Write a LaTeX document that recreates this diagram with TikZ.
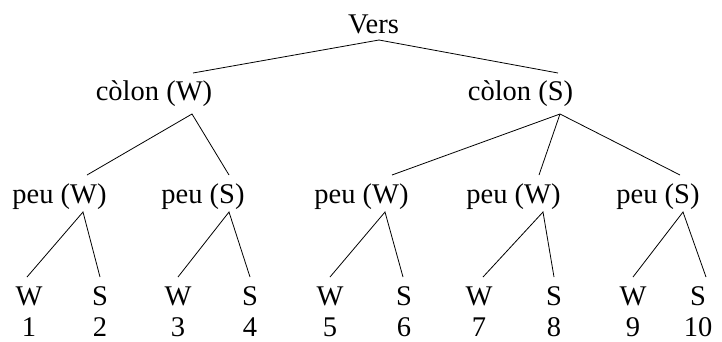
\documentclass[tikz,border=0pt]{standalone}
\usepackage{fontspec}
\setmainfont{Liberation Serif}
\begin{document}
\begin{tikzpicture}[x=1pt,y=-1pt,
  lab/.style={inner sep=0pt, anchor=base, font=\fontsize{28.5}{32}\selectfont},
  edge/.style={line width=0.8pt, line join=miter}]
\useasboundingbox (0,0) rectangle (722,341);

% root
\node[lab] (vers) at (373.5,33) {Vers};
\coordinate (vers-b) at (379,40);

% cola
\node[lab] (cW) at (154,100) {còlon (W)};
\node[lab] (cS) at (520.5,100) {còlon (S)};
\coordinate (cW-t) at (193,73);
\coordinate (cW-b) at (192,114);
\coordinate (cS-t) at (558,73);
\coordinate (cS-b) at (560,114);

% feet
\node[lab] (p1) at (59.5,203) {peu (W)};
\node[lab] (p2) at (203,203) {peu (S)};
\node[lab] (p3) at (361.5,203) {peu (W)};
\node[lab] (p4) at (513.5,203) {peu (W)};
\node[lab] (p5) at (658,203) {peu (S)};
\coordinate (p1-t) at (87,175);  \coordinate (p1-b) at (83,212);
\coordinate (p2-t) at (229,175); \coordinate (p2-b) at (229,212);
\coordinate (p3-t) at (392,175); \coordinate (p3-b) at (385,212);
\coordinate (p4-t) at (539,175); \coordinate (p4-b) at (543,212);
\coordinate (p5-t) at (680,175); \coordinate (p5-b) at (683,212);

% syllables and their numbers
\foreach \i/\x/\s in {1/29/W,2/100/S,3/178/W,4/250/S,5/330/W,6/404/S,7/479/W,8/554/S,9/633/W,10/698/S}{
  \node[lab] (s\i) at (\x,305) {\s};
  \node[lab] (n\i) at (\x,336) {\i};
}
\coordinate (s1-t) at (27,277);
\coordinate (s2-t) at (100,277);
\coordinate (s3-t) at (178,277);
\coordinate (s4-t) at (250,277);
\coordinate (s5-t) at (330,277);
\coordinate (s6-t) at (403,277);
\coordinate (s7-t) at (483,277);
\coordinate (s8-t) at (554,277);
\coordinate (s9-t) at (633,277);
\coordinate (s10-t) at (706,277);

% branches
\draw[edge] (cW-t) -- (vers-b) -- (cS-t);
\draw[edge] (p1-t) -- (cW-b) -- (p2-t);
\draw[edge] (p3-t) -- (cS-b) -- (p5-t);
\draw[edge] (cS-b) -- (p4-t);
\draw[edge] (s1-t) -- (p1-b) -- (s2-t);
\draw[edge] (s3-t) -- (p2-b) -- (s4-t);
\draw[edge] (s5-t) -- (p3-b) -- (s6-t);
\draw[edge] (s7-t) -- (p4-b) -- (s8-t);
\draw[edge] (s9-t) -- (p5-b) -- (s10-t);
\end{tikzpicture}
\end{document}
